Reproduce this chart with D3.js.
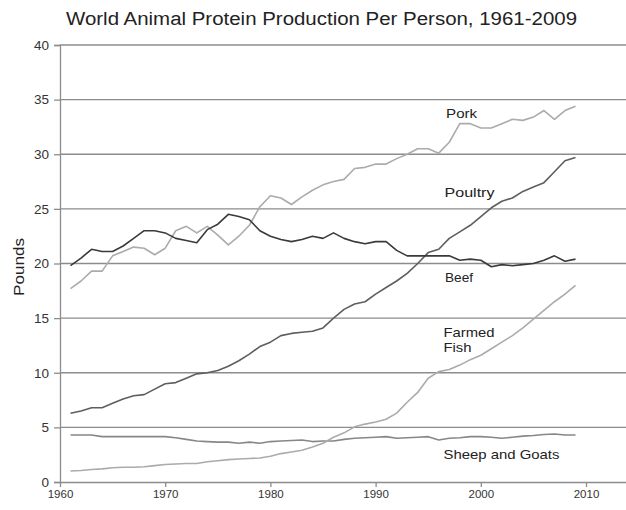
<!DOCTYPE html>
<html><head><meta charset="utf-8">
<script src="https://cdn.jsdelivr.net/npm/d3@7"></script>
<style>
html,body{margin:0;padding:0;background:#fff;}
svg{display:block;font-family:"Liberation Sans",Arial,sans-serif;}
</style></head>
<body><svg id="c" width="626" height="510"></svg>
<script>
const years = d3.range(1961, 2010);
const pork = [17.7,18.4,19.3,19.3,20.7,21.1,21.5,21.4,20.8,21.4,23.0,23.4,22.8,23.4,22.6,21.7,22.5,23.5,25.2,26.2,26.0,25.4,26.1,26.7,27.2,27.5,27.7,28.7,28.8,29.1,29.1,29.6,30.0,30.5,30.5,30.1,31.1,32.8,32.8,32.4,32.4,32.8,33.2,33.1,33.4,34.0,33.2,34.0,34.4];
const poultry = [6.3,6.5,6.8,6.8,7.2,7.6,7.9,8.0,8.5,9.0,9.1,9.5,9.9,10.0,10.2,10.6,11.1,11.7,12.4,12.8,13.4,13.6,13.7,13.8,14.1,15.0,15.8,16.3,16.5,17.2,17.8,18.4,19.1,20.0,21.0,21.3,22.3,22.9,23.5,24.3,25.1,25.7,26.0,26.6,27.0,27.4,28.4,29.4,29.7];
const beef = [19.8,20.5,21.3,21.1,21.1,21.6,22.3,23.0,23.0,22.8,22.3,22.1,21.9,23.1,23.6,24.5,24.3,24.0,23.0,22.5,22.2,22.0,22.2,22.5,22.3,22.8,22.3,22.0,21.8,22.0,22.0,21.2,20.7,20.7,20.7,20.7,20.7,20.3,20.4,20.3,19.7,19.9,19.8,19.9,20.0,20.3,20.7,20.2,20.4];
const farmedFish = [1.0,1.05,1.15,1.2,1.3,1.35,1.35,1.4,1.5,1.6,1.65,1.7,1.7,1.85,1.95,2.05,2.1,2.15,2.2,2.35,2.6,2.75,2.9,3.2,3.55,4.1,4.5,5.05,5.3,5.5,5.75,6.3,7.3,8.2,9.5,10.1,10.3,10.7,11.2,11.6,12.2,12.8,13.4,14.1,14.9,15.7,16.5,17.2,18.0];
const sheepGoats = [4.3,4.3,4.3,4.15,4.15,4.15,4.15,4.15,4.15,4.15,4.05,3.9,3.75,3.7,3.65,3.65,3.55,3.65,3.55,3.7,3.75,3.8,3.85,3.7,3.75,3.75,3.9,4.0,4.05,4.1,4.15,4.0,4.05,4.1,4.15,3.85,4.0,4.05,4.15,4.15,4.1,4.0,4.1,4.2,4.25,4.35,4.4,4.3,4.3];
const xTicks = [1960,1970,1980,1990,2000,2010];
const yTicks = [0,5,10,15,20,25,30,35,40];

const series = [
  {name:"Sheep and Goats", values: sheepGoats, color:"#878787"},
  {name:"Farmed Fish", values: farmedFish, color:"#ababab"},
  {name:"Pork", values: pork, color:"#ababab"},
  {name:"Poultry", values: poultry, color:"#5e5e5e"},
  {name:"Beef", values: beef, color:"#3a3a3a"}
];

const svg = d3.select("#c");
const x = d3.scaleLinear().domain([1960, 2013.8]).range([60, 626]);
const y = d3.scaleLinear().domain([0, 40]).range([482, 45]);

// gridlines
svg.append("g").selectAll("line").data(yTicks.filter(t=>t>0)).join("line")
  .attr("x1", 60).attr("x2", 626)
  .attr("y1", d=>y(d)).attr("y2", d=>y(d))
  .attr("stroke", "#8c8c8c").attr("stroke-width", 1.3);

// y axis
const yAxis = svg.append("g").attr("transform","translate(60,0)")
  .call(d3.axisLeft(y).tickValues(yTicks).tickSize(6).tickPadding(5));
yAxis.select(".domain").attr("stroke","#8c8c8c").attr("stroke-width",1.3);
yAxis.selectAll(".tick line").attr("stroke","#8c8c8c").attr("stroke-width",1.3);
yAxis.selectAll("text").attr("font-size",13.5).attr("fill","#333").attr("font-family","Liberation Sans, Arial, sans-serif");

// x axis
const xAxis = svg.append("g").attr("transform","translate(0,482)")
  .call(d3.axisBottom(x).tickValues(xTicks).tickFormat(d3.format("d")).tickSize(5).tickPadding(3).tickSizeOuter(0));
xAxis.select(".domain").attr("stroke","#8c8c8c").attr("stroke-width",1.3);
xAxis.selectAll(".tick line").attr("stroke","#8c8c8c").attr("stroke-width",1.3);
xAxis.selectAll("text").attr("font-size",11.5).attr("fill","#333").attr("font-family","Liberation Sans, Arial, sans-serif");

// lines
const line = d3.line().x((d,i)=>x(years[i])).y(d=>y(d));
svg.append("g").selectAll("path").data(series).join("path")
  .attr("d", d=>line(d.values))
  .attr("fill","none").attr("stroke", d=>d.color).attr("stroke-width",1.6)
  .attr("stroke-linejoin","round");

// labels
const labels = [
  {lines:[["Pork",31]], xv:1996.7, yv:33.3},
  {lines:[["Poultry",50]], xv:1996.55, yv:26.1},
  {lines:[["Beef",28]], xv:1996.6, yv:18.3},
  {lines:[["Farmed",51],["Fish",28]], xv:1996.45, yv:13.3},
  {lines:[["Sheep and Goats",116]], xv:1996.45, yv:2.09}
];
labels.forEach(l=>{
  l.lines.forEach((s,i)=>{
    svg.append("text").attr("x", x(l.xv)).attr("y", y(l.yv) + i*15.5)
      .attr("font-size",13).attr("fill","#222")
      .attr("textLength", s[1]).attr("lengthAdjust","spacingAndGlyphs")
      .text(s[0]);
  });
});

// title
svg.append("text").attr("x", 66).attr("y", 25)
  .attr("font-size",18).attr("fill","#222")
  .attr("textLength", 511).attr("lengthAdjust","spacingAndGlyphs")
  .text("World Animal Protein Production Per Person, 1961-2009");

// y label
svg.append("text").attr("transform","translate(24,267) rotate(-90)")
  .attr("text-anchor","middle").attr("font-size",14).attr("fill","#222")
  .attr("textLength", 58).attr("lengthAdjust","spacingAndGlyphs")
  .text("Pounds");
</script></body></html>
